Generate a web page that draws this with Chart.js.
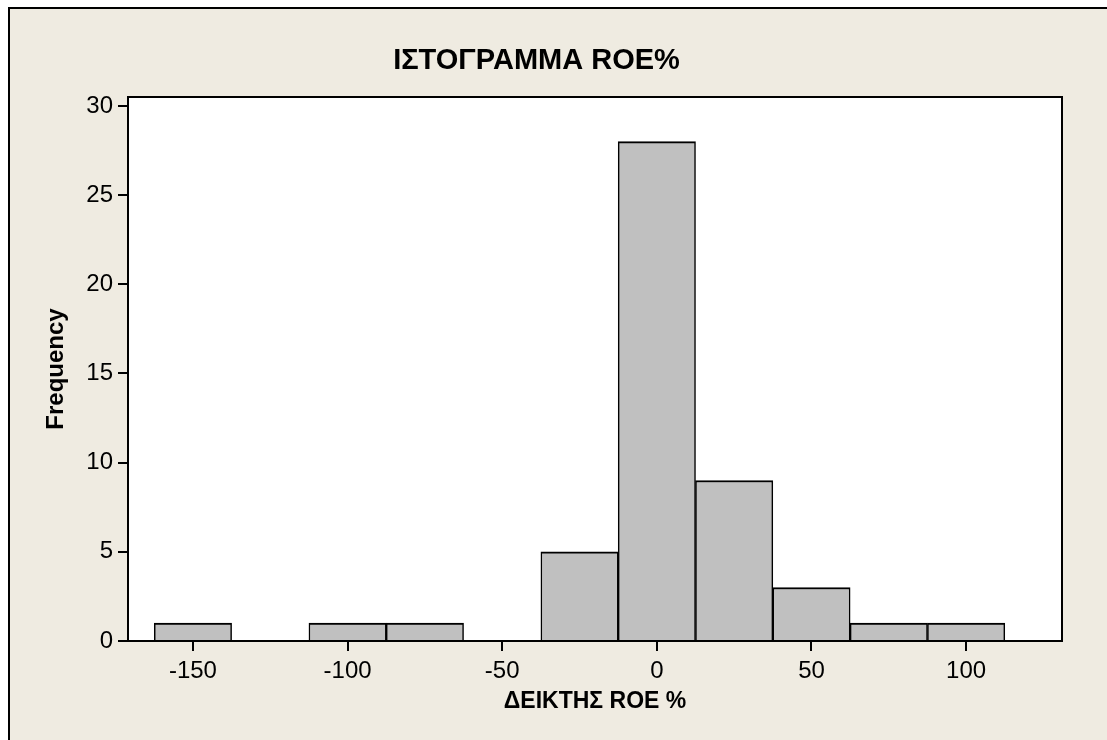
<!DOCTYPE html>
<html>
<head>
<meta charset="utf-8">
<script src="https://cdn.jsdelivr.net/npm/chart.js@4"></script>
<style>
  html, body { margin: 0; padding: 0; background: #fff; width: 1107px; height: 740px; overflow: hidden; }
  #frame {
    position: absolute; left: 8px; top: 7px; width: 1120px; height: 760px;
    border-left: 2px solid #000; border-top: 2px solid #000;
    background: #efebe1;
  }
  #chart { position: absolute; left: 11px; top: 0; }
</style>
</head>
<body>
<div id="frame"></div>
<canvas id="chart" width="1096" height="740"></canvas>
<script>
// bin midpoints (width 25) and counts
const binCenters = [-150, -125, -100, -75, -50, -25, 0, 25, 50, 75, 100];
const counts = [1, 0, 1, 1, 0, 5, 28, 9, 3, 1, 1];

const xTicks = [-150, -100, -50, 0, 50, 100];
const yTicks = [0, 5, 10, 15, 20, 25, 30];

const FONT = '"Liberation Sans", Arial, sans-serif';

// white plot area with black frame
const plotFrame = {
  id: 'plotFrame',
  beforeDatasetsDraw(chart) {
    const { ctx, chartArea: a } = chart;
    ctx.save();
    ctx.fillStyle = '#fff';
    ctx.fillRect(a.left, a.top, a.right - a.left, a.bottom - a.top);
    ctx.restore();
  },
  afterDatasetsDraw(chart) {
    const { ctx, chartArea: a } = chart;
    ctx.save();
    ctx.strokeStyle = '#000';
    ctx.lineWidth = 2;
    ctx.strokeRect(a.left, a.top, a.right - a.left, a.bottom - a.top);
    ctx.restore();
  },
};

const canvas = document.getElementById('chart');
new Chart(canvas.getContext('2d'), {
  type: 'bar',
  data: {
    datasets: [
      {
        data: binCenters.map((x, i) => ({ x, y: counts[i] })),
        backgroundColor: '#c0c0c0',
        borderColor: '#000',
        borderWidth: { top: 2, left: 1.5, right: 1.5, bottom: 0 },
        borderSkipped: false,
        barPercentage: 1,
        categoryPercentage: 1,
      },
    ],
  },
  options: {
    responsive: false,
    animation: false,
    devicePixelRatio: 1,
    layout: { padding: { left: 0, right: 45, top: 0, bottom: 0 } },
    plugins: {
      legend: { display: false },
      tooltip: { enabled: false },
      title: {
        display: true,
        text: 'ΙΣΤΟΓΡΑΜΜΑ ROE%',
        color: '#000',
        font: { family: FONT, size: 29, weight: 'bold', lineHeight: 1.2 },
        padding: { top: 44, bottom: 18.2 },
      },
    },
    scales: {
      x: {
        type: 'linear',
        min: -171,
        max: 131,
        offset: false,
        afterFit: s => { s.height = 99; },
        afterBuildTicks: s => { s.ticks = xTicks.map(v => ({ value: v })); },
        border: { display: true, color: '#000', width: 2 },
        grid: { offset: false, drawOnChartArea: false, drawTicks: true, tickLength: 10, color: '#000', lineWidth: 2 },
        ticks: { color: '#000', padding: 6, font: { family: FONT, size: 24 }, maxRotation: 0 },
        title: {
          display: true,
          text: 'ΔΕΙΚΤΗΣ ROE %',
          color: '#000',
          font: { family: FONT, size: 23, weight: 'bold', lineHeight: 1.2 },
          padding: { top: 0, bottom: 25 },
        },
      },
      y: {
        min: 0,
        max: 30.5,
        afterFit: s => { s.width = 117; },
        afterBuildTicks: s => { s.ticks = yTicks.map(v => ({ value: v })); },
        border: { display: true, color: '#000', width: 2 },
        grid: { drawOnChartArea: false, drawTicks: true, tickLength: 10, color: '#000', lineWidth: 2 },
        ticks: { color: '#000', padding: 5, font: { family: FONT, size: 24 } },
        title: {
          display: true,
          text: 'Frequency',
          color: '#000',
          font: { family: FONT, size: 24, weight: 'bold', lineHeight: 1.2 },
          padding: { top: 30.6, bottom: 0 },
        },
      },
    },
  },
  plugins: [plotFrame],
});
</script>
</body>
</html>
